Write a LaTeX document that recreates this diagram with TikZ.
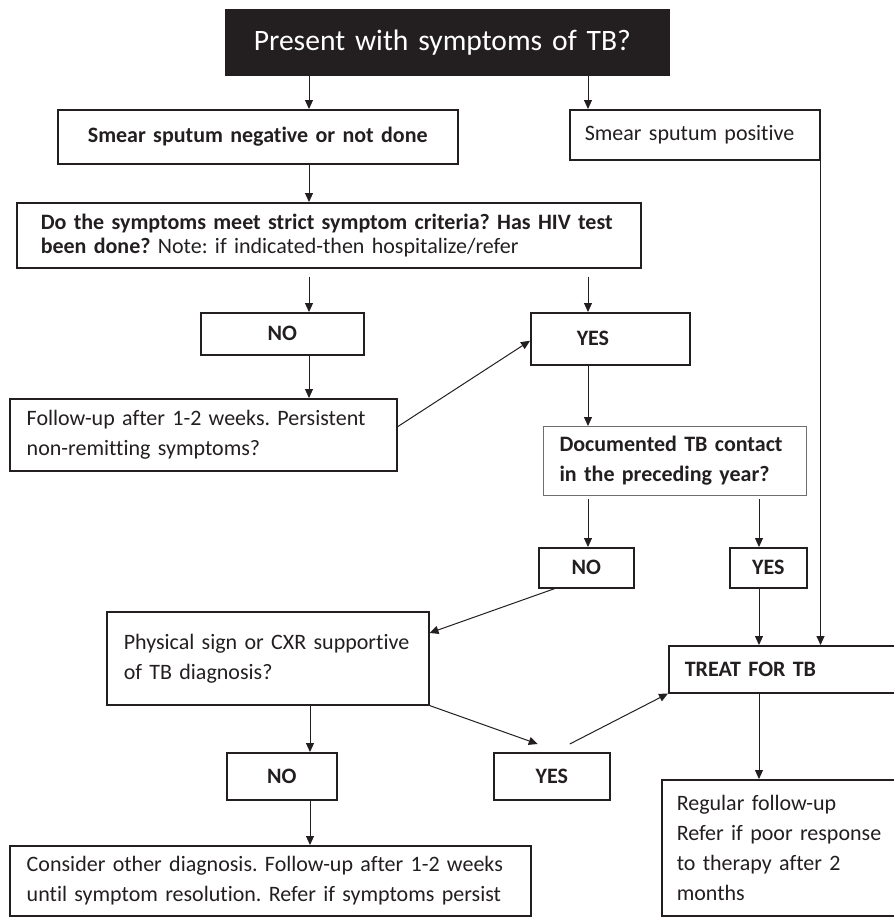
\documentclass[tikz,border=0pt]{standalone}
\usepackage{fontspec}
\setmainfont{Carlito}[Ligatures={NoCommon,NoContextual}]
\usepackage{tikz}
\usetikzlibrary{arrows.meta,calc}
\definecolor{inkblack}{RGB}{35,31,32}
\definecolor{framegray}{RGB}{110,110,110}
\newcommand{\bodyfont}{\fontsize{22}{30}\selectfont}
\newcommand{\tightfont}{\fontsize{22}{24}\selectfont}
\newcommand{\titlefont}{\fontsize{29.6}{34}\selectfont}
\frenchspacing

\begin{document}
\begin{tikzpicture}[
    x=1pt, y=-1pt,
    box/.style={draw=inkblack, line width=1.5pt, anchor=north west, align=left,
        inner ysep=0pt, font=\bodyfont, text=inkblack},
    ctrbox/.style={box, align=center, inner xsep=0pt, font=\bodyfont\bfseries},
    arr/.style={-{Triangle[length=9pt,width=8pt]}, line width=1pt, draw=inkblack}
]
\path[use as bounding box, clip] (0,0) rectangle (894,922);

\node[box, fill=inkblack, text=white, font=\titlefont, inner xsep=28pt,
    text width=387pt, minimum height=65pt] (present) at (225,9)
    {Present with symptoms of TB?};
\node[ctrbox, inner xsep=10pt, text width=380pt, minimum height=54pt] (smneg) at (57,109)
    {Smear sputum negative or not done};
\node[box, inner xsep=15pt, text width=220pt, minimum height=50pt] (smpos) at (569,109)
    {Smear sputum positive};
\node[box, font=\tightfont, inner xsep=24pt, text width=576pt, minimum height=65pt] (criteria) at (16,202)
    {\textbf{Do the symptoms meet strict symptom criteria? Has HIV test}\\
     \textbf{been done?} Note: if indicated-then hospitalize/refer};
\node[ctrbox, text width=163pt, minimum height=42pt] (noa) at (200,312) {NO};
\node[box, font=\bodyfont\bfseries, inner xsep=46pt, text width=67pt, minimum height=52pt] (yesa) at (530,312) {YES};
\node[box, inner xsep=17pt, text width=353pt, minimum height=72pt] (followup) at (9,398)
    {Follow-up after 1-2 weeks. Persistent\\non-remitting symptoms?};
\node[box, draw=framegray, line width=1pt, font=\bodyfont\bfseries, inner xsep=16pt,
    text width=231pt, minimum height=69pt] (contact) at (543,426)
    {Documented TB contact\\in the preceding year?};
\node[ctrbox, text width=95pt, minimum height=40pt] (nob) at (538,547) {NO};
\node[ctrbox, text width=77pt, minimum height=40pt] (yesb) at (729,547) {YES};
\node[box, inner xsep=17pt, text width=288pt, minimum height=93pt] (physical) at (106,611)
    {Physical sign or CXR supportive\\of TB diagnosis?};
\node[ctrbox, text width=110pt, minimum height=47pt] (noc) at (226,752) {NO};
\node[ctrbox, text width=116pt, minimum height=47pt] (yesc) at (493,752) {YES};
\node[box, font=\bodyfont\bfseries, inner xsep=16pt, text width=196pt, minimum height=47pt] (treat) at (668,645)
    {TREAT FOR TB};
\node[box, inner xsep=15pt, text width=205pt, minimum height=136pt] (regular) at (661,779)
    {Regular follow-up\\Refer if poor response\\to therapy after 2\\months};
\node[box, inner xsep=17pt, text width=487pt, minimum height=70pt] (consider) at (9,845)
    {Consider other diagnosis. Follow-up after 1-2 weeks\\until symptom resolution. Refer if symptoms persist};

\draw[arr] (309,0 |- present.south) -- (309,0 |- smneg.north);
\draw[arr] (588,0 |- present.south) -- (588,0 |- smpos.north);
\draw[arr] (smpos.south east) -- (smpos.south east |- treat.north);
\draw[arr] (309,0 |- smneg.south) -- (309,0 |- criteria.north);
\draw[arr, shorten <=8pt] (309,0 |- criteria.south) -- (309,0 |- noa.north);
\draw[arr, shorten <=8pt] (588,0 |- criteria.south) -- (588,0 |- yesa.north);
\draw[arr] (309,0 |- noa.south) -- (309,0 |- followup.north);
\draw[arr] ([yshift=8pt]followup.east) -- ([yshift=-2pt]yesa.west);
\draw[arr] (588,0 |- yesa.south) -- (588,0 |- contact.north);
\draw[arr, shorten <=3pt] (588,0 |- contact.south) -- (588,0 |- nob.north);
\draw[arr, shorten <=3pt] (759,0 |- contact.south) -- (759,0 |- yesb.north);
\draw[arr] ($(nob.south west)+(17,0)$) -- ($(physical.north east)+(0,22)$);
\draw[arr] (759,0 |- yesb.south) -- (759,0 |- treat.north);
\draw[arr] (310,0 |- physical.south) -- (310,0 |- noc.north);
\draw[arr] (physical.south east) -- ($(yesc.north)+(-14,-8)$);
\draw[arr] ($(yesc.north)+(18,-8)$) -- (treat.south west);
\draw[arr] (759,0 |- treat.south) -- (759,0 |- regular.north);
\draw[arr] (310,0 |- noc.south) -- (310,0 |- consider.north);
\end{tikzpicture}
\end{document}
